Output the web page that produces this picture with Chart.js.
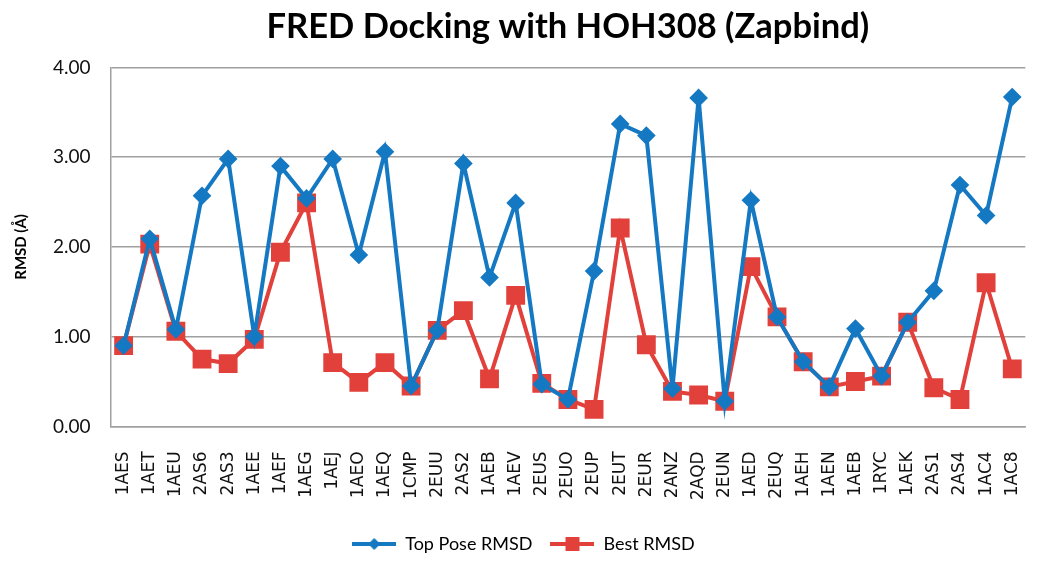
<!DOCTYPE html>
<html>
<head>
<meta charset="utf-8">
<script src="https://cdn.jsdelivr.net/npm/chart.js@4.4.0/dist/chart.umd.min.js"></script>
<style>
  html, body { margin: 0; padding: 0; background: #fff; }
  #wrap { width: 1050px; height: 564px; }
</style>
</head>
<body>
<div id="wrap"><canvas id="rmsdChart"></canvas></div>
<script>
const proteins = ['1AES','1AET','1AEU','2AS6','2AS3','1AEE','1AEF','1AEG','1AEJ','1AEO','1AEQ','1CMP','2EUU','2AS2','1AEB','1AEV','2EUS','2EUO','2EUP','2EUT','2EUR','2ANZ','2AQD','2EUN','1AED','2EUQ','1AEH','1AEN','1AEB','1RYC','1AEK','2AS1','2AS4','1AC4','1AC8'];
const topPose = [0.90,2.09,1.08,2.57,2.98,1.00,2.90,2.54,2.98,1.91,3.06,0.45,1.07,2.93,1.66,2.49,0.47,0.30,1.73,3.37,3.24,0.42,3.66,0.28,2.52,1.22,0.72,0.44,1.09,0.56,1.16,1.51,2.69,2.35,3.67];
const bestRmsd = [0.90,2.03,1.06,0.75,0.70,0.97,1.94,2.49,0.71,0.49,0.71,0.45,1.07,1.29,0.53,1.46,0.48,0.30,0.19,2.21,0.91,0.39,0.35,0.28,1.78,1.22,0.72,0.44,0.50,0.56,1.16,0.43,0.30,1.60,0.64];
const yTicks = [0, 1, 2, 3, 4];

const BLUE = '#1479c2', RED = '#e2403b';

// legend swatch: short line with the marker on it
function swatch(color, shape){
  const c = document.createElement('canvas');
  c.width = 44; c.height = 18;
  const g = c.getContext('2d');
  g.strokeStyle = color; g.lineWidth = 4;
  g.beginPath(); g.moveTo(0, 9); g.lineTo(44, 9); g.stroke();
  g.fillStyle = color;
  if (shape === 'diamond'){
    g.beginPath(); g.moveTo(22, 3); g.lineTo(28, 9); g.lineTo(22, 15); g.lineTo(16, 9); g.closePath(); g.fill();
  } else {
    g.fillRect(15, 2, 14, 14);
  }
  return c;
}

new Chart(document.getElementById('rmsdChart').getContext('2d'), {
  type: 'line',
  data: {
    labels: proteins,
    datasets: [
      {label:'Top Pose RMSD', data: topPose, borderColor: BLUE, backgroundColor: BLUE, borderWidth: 4,
       pointStyle:'rectRot', pointRadius: 6.5, pointHoverRadius: 6.5, tension: 0, legendImg: swatch(BLUE,'diamond')},
      {label:'Best RMSD', data: bestRmsd, borderColor: RED, backgroundColor: RED, borderWidth: 4,
       pointStyle:'rect', pointRadius: 10.5, pointHoverRadius: 10.5, tension: 0, legendImg: swatch(RED,'square')}
    ]
  },
  options: {
    responsive: true,
    maintainAspectRatio: false,
    animation: false,
    layout: {padding: {left: 6, right: 9, top: 4, bottom: 1}},
    plugins: {
      title: {display: true, fullSize: false, text: 'FRED Docking with HOH308 (Zapbind)', color: '#000',
        font: {family: 'Lato', size: 34.5, weight: 'bold'}, padding: {top: 2, bottom: 20}},
      legend: {
        position: 'bottom',
        labels: {
          usePointStyle: true, pointStyleWidth: 44, padding: 18, color: '#111',
          font: {family: 'Lato', size: 18},
          generateLabels: chart => chart.data.datasets.map((ds, i) => ({
            text: ds.label, pointStyle: ds.legendImg, fillStyle: ds.borderColor,
            strokeStyle: ds.borderColor, lineWidth: 0, hidden: false, datasetIndex: i
          }))
        }
      },
      tooltip: {enabled: false}
    },
    scales: {
      x: {
        offset: true,
        grid: {display: false},
        border: {color: '#a0a0a0', width: 1.5},
        ticks: {minRotation: 90, maxRotation: 90, autoSkip: false, color: '#111',
          font: {family: 'DejaVu Sans', size: 17}, padding: 17}
      },
      y: {
        min: 0, max: 4,
        afterBuildTicks: axis => { axis.ticks = yTicks.map(v => ({value: v})); },
        grid: {color: '#a0a0a0', lineWidth: 1.5, drawTicks: false},
        border: {color: '#a0a0a0', width: 1.5},
        ticks: {color: '#111', font: {family: 'Lato', size: 19}, padding: 20,
          callback: v => Number(v).toFixed(2)},
        title: {display: true, text: 'RMSD (Å)', color: '#000',
          font: {family: 'Lato', size: 15, weight: 'bold'}, padding: {top: 6, bottom: 3}}
      }
    }
  }
});
</script>
</body>
</html>
